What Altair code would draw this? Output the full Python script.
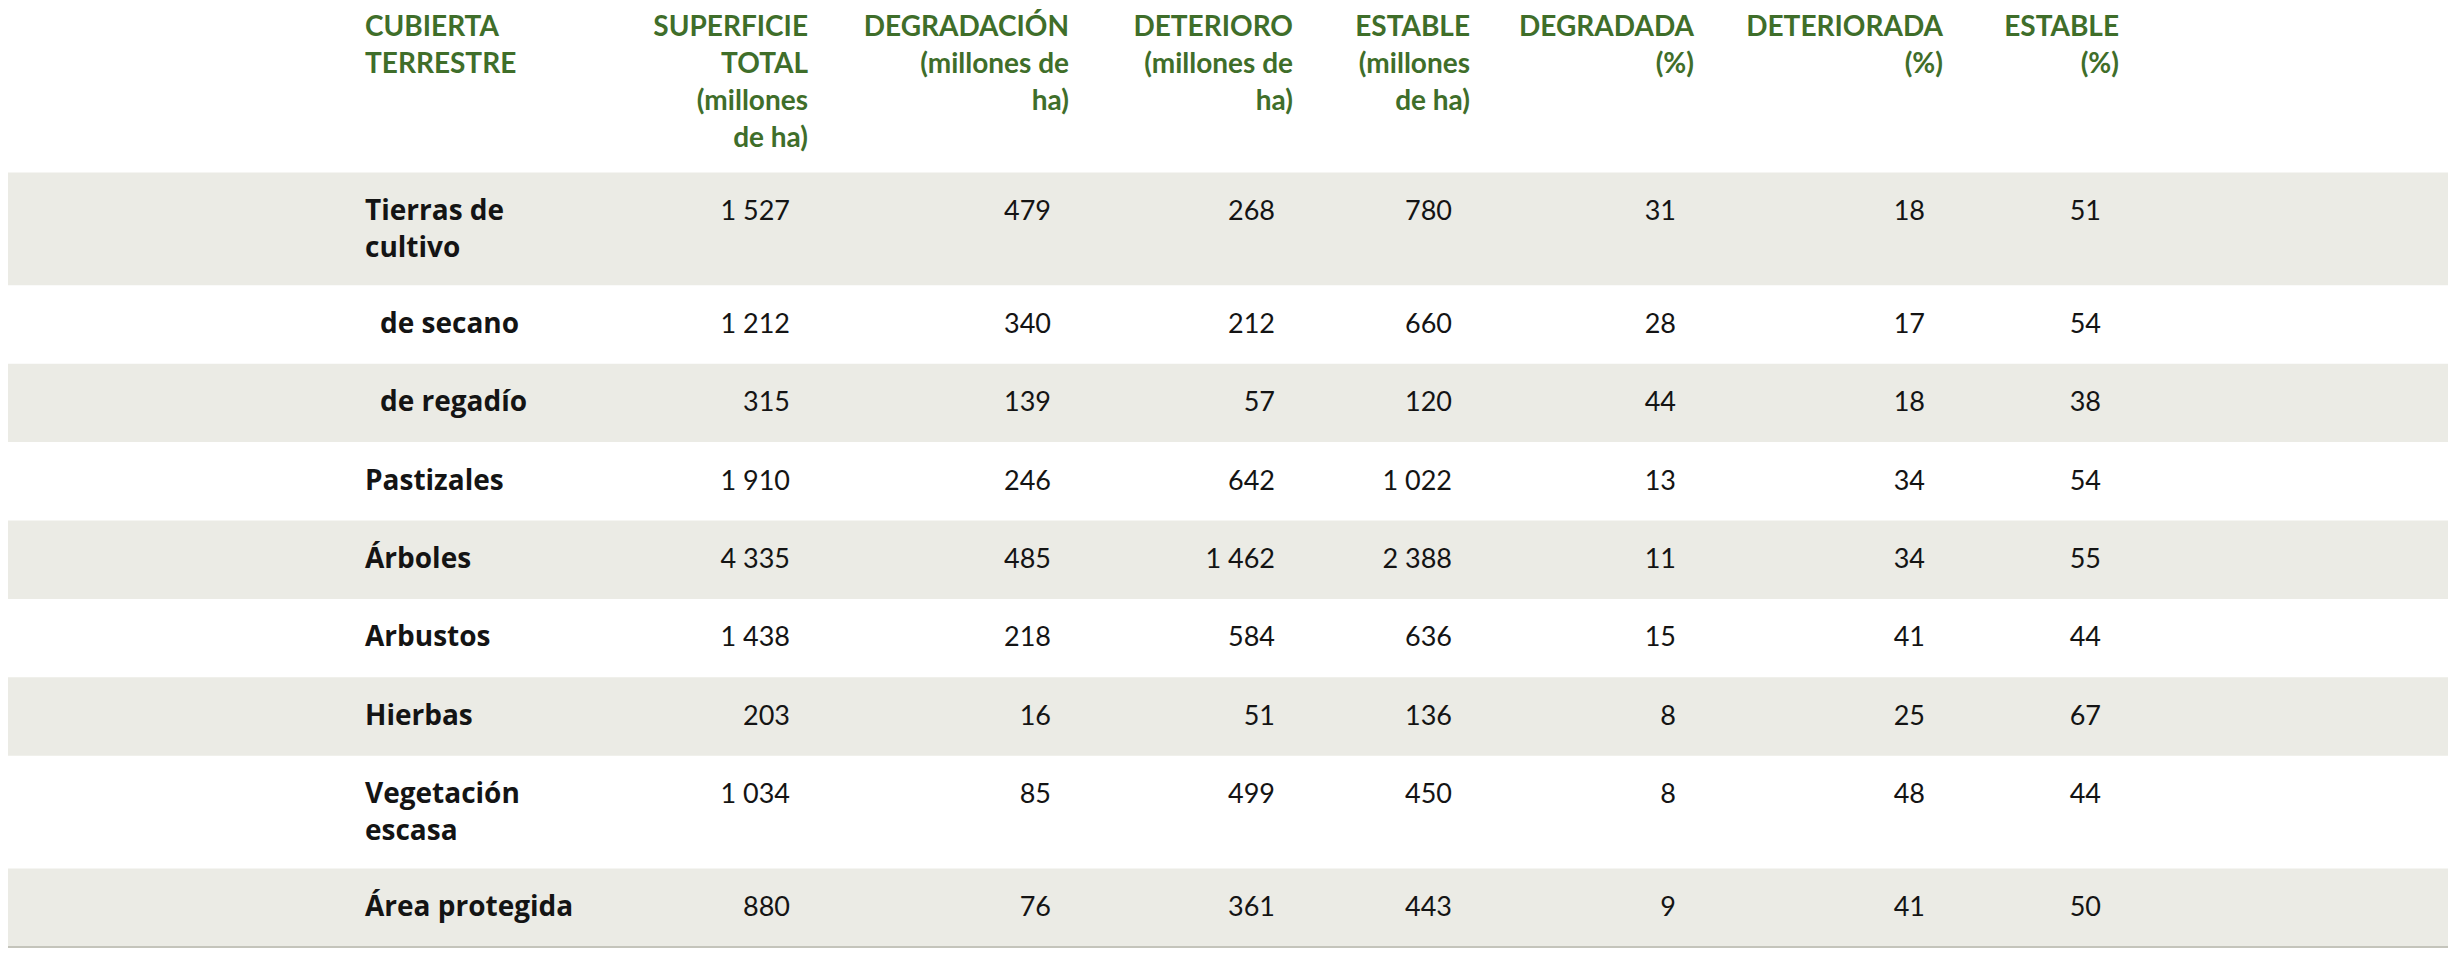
import altair as alt
import pandas as pd

categorias = ["Tierras de\ncultivo", "de secano", "de regadío", "Pastizales", "Árboles",
              "Arbustos", "Hierbas", "Vegetación\nescasa", "Área protegida"]
subcategoria = [False, True, True, False, False, False, False, False, False]
superficie_total = [1527, 1212, 315, 1910, 4335, 1438, 203, 1034, 880]
degradacion = [479, 340, 139, 246, 485, 218, 16, 85, 76]
deterioro = [268, 212, 57, 642, 1462, 584, 51, 499, 361]
estable = [780, 660, 120, 1022, 2388, 636, 136, 450, 443]
degradada_pct = [31, 28, 44, 13, 11, 15, 8, 8, 9]
deteriorada_pct = [18, 17, 18, 34, 34, 41, 25, 48, 41]
estable_pct = [51, 54, 38, 54, 55, 44, 67, 44, 50]

encabezado_primero = "CUBIERTA\nTERRESTRE"
encabezados = ["SUPERFICIE\nTOTAL\n(millones\nde ha)", "DEGRADACIÓN\n(millones de\nha)",
               "DETERIORO\n(millones de\nha)", "ESTABLE\n(millones\nde ha)",
               "DEGRADADA\n(%)", "DETERIORADA\n(%)", "ESTABLE\n(%)"]
columnas = [superficie_total, degradacion, deterioro, estable,
            degradada_pct, deteriorada_pct, estable_pct]

# ---- layout (pixel units of the plot area) ----
W, H = 2440, 944
HEAD_FONT = "Lato"
CAT_FONT = "Open Sans"
NUM_FONT = "Lato"
HEAD_FS = 28
CAT_FS = 28
NUM_FS = 27
GREEN = "#3f6e2a"
BLACK = "#141414"
BAND = "#ebebe5"
HEADER_BASE = 27.5
HEADER_LH = 37.1
TABLE_TOP = 164.5
ROW_H = 78.4
EXTRA_LINE_H = 34.4
TEXT_BASE = 47.5
DATA_LH = 36.8
COL_LEFT = 357
SUB_INDENT = 15
COL_RIGHT = [800, 1061, 1285, 1462, 1686, 1935, 2111]
DATA_SHIFT = 18


def fmt(v):
    return f"{v:,}".replace(",", " ")


rows = []
top = TABLE_TOP
for i, cat in enumerate(categorias):
    n = cat.count("\n") + 1
    h = ROW_H + EXTRA_LINE_H * (n - 1)
    rows.append(dict(i=i, top=top, bottom=top + h, base=top + TEXT_BASE,
                     cat=cat, sub=subcategoria[i], band=(i % 2 == 0), xl=COL_LEFT))
    top += h
rows_df = pd.DataFrame(rows)

cells = []
for r in rows:
    for c, vals in enumerate(columnas):
        cells.append(dict(x=COL_RIGHT[c] - DATA_SHIFT, y=r["base"], t=fmt(vals[r["i"]])))
cells_df = pd.DataFrame(cells)

head_df = pd.DataFrame(dict(x=COL_RIGHT, y=[HEADER_BASE] * len(encabezados), t=encabezados))
head0_df = pd.DataFrame(dict(x=[COL_LEFT], y=[HEADER_BASE], t=[encabezado_primero]))
bottom_df = pd.DataFrame(dict(y=[rows[-1]["bottom"]]))

xs = alt.Scale(domain=[0, W], range=[0, W], nice=False, zero=False)
ys = alt.Scale(domain=[0, H], range=[0, H], nice=False, zero=False)

bands = alt.Chart(rows_df).transform_filter("datum.band").mark_rect(color=BAND).encode(
    x=alt.value(0), x2=alt.value(W),
    y=alt.Y("top:Q", scale=ys, axis=None), y2="bottom:Q")

rule = alt.Chart(bottom_df).mark_rule(color="#c4c4bb", strokeWidth=2).encode(
    x=alt.value(0), x2=alt.value(W), y=alt.Y("y:Q", scale=ys, axis=None))

head0 = alt.Chart(head0_df).mark_text(
    align="left", baseline="alphabetic", font=HEAD_FONT, fontSize=HEAD_FS, fontWeight="bold",
    color=GREEN, lineBreak="\n", lineHeight=HEADER_LH).encode(
    x=alt.X("x:Q", scale=xs, axis=None), y=alt.Y("y:Q", scale=ys, axis=None), text="t:N")

heads = alt.Chart(head_df).mark_text(
    align="right", baseline="alphabetic", font=HEAD_FONT, fontSize=HEAD_FS, fontWeight="bold",
    color=GREEN, lineBreak="\n", lineHeight=HEADER_LH).encode(
    x=alt.X("x:Q", scale=xs, axis=None), y=alt.Y("y:Q", scale=ys, axis=None), text="t:N")

cats_main = alt.Chart(rows_df).transform_filter("!datum.sub").mark_text(
    align="left", baseline="alphabetic", font=CAT_FONT, fontSize=CAT_FS, fontWeight="bold",
    color=BLACK, lineBreak="\n", lineHeight=DATA_LH).encode(
    x=alt.X("xl:Q", scale=xs, axis=None), y=alt.Y("base:Q", scale=ys, axis=None), text="cat:N")

cats_sub = alt.Chart(rows_df).transform_filter("datum.sub").mark_text(
    align="left", baseline="alphabetic", font=CAT_FONT, fontSize=CAT_FS, fontWeight="bold",
    color=BLACK, dx=SUB_INDENT, lineBreak="\n", lineHeight=DATA_LH).encode(
    x=alt.X("xl:Q", scale=xs, axis=None), y=alt.Y("base:Q", scale=ys, axis=None), text="cat:N")

nums = alt.Chart(cells_df).mark_text(
    align="right", baseline="alphabetic", font=NUM_FONT, fontSize=NUM_FS, fontWeight="normal",
    color=BLACK).encode(
    x=alt.X("x:Q", scale=xs, axis=None), y=alt.Y("y:Q", scale=ys, axis=None), text="t:N")

chart = alt.layer(bands, rule, head0, heads, cats_main, cats_sub, nums).properties(
    width=W, height=H, padding=0, autosize=alt.AutoSizeParams(type="none"),
    background="white"
).configure_view(stroke=None)

chart.save("out.html", embed_options={"renderer": "svg", "actions": False})
